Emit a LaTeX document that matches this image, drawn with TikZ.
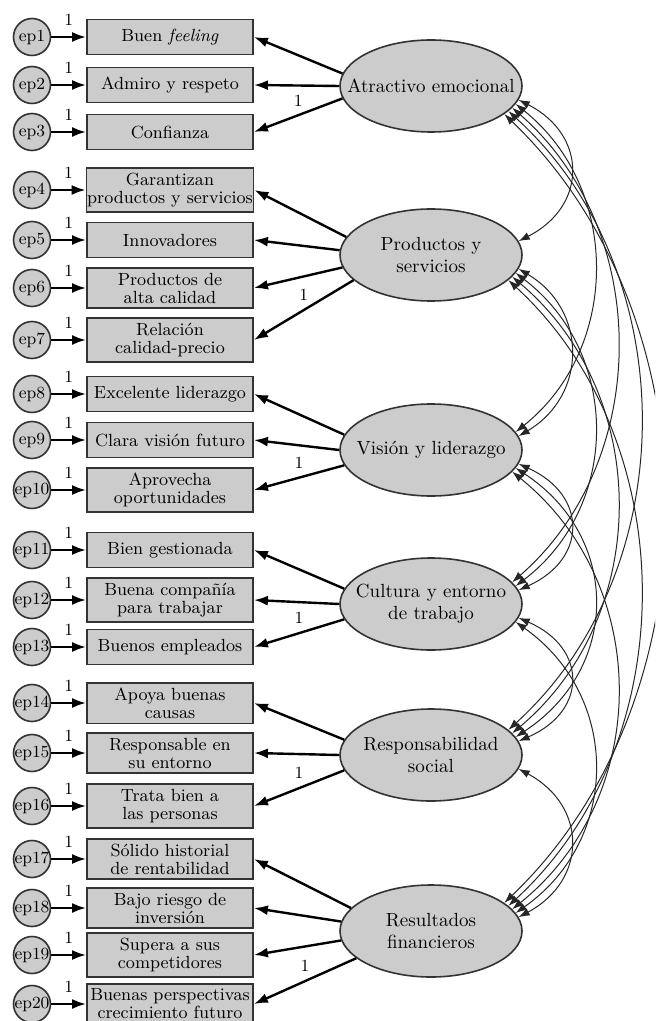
\documentclass[tikz,border=0pt]{standalone}
\usetikzlibrary{arrows.meta,shapes.geometric}
\begin{document}
\begin{tikzpicture}[x=0.5pt, y=0.5pt,
	ind/.style={draw=black!80, line width=0.9pt, fill=black!20, minimum width=83pt, minimum height=17.5pt, inner xsep=0.3pt, inner ysep=2.5pt, align=center, font=\fontsize{8.8}{9}\selectfont},
	err/.style={circle, draw=black!80, line width=0.8pt, fill=black!20, minimum size=18.5pt, inner sep=0pt},
	errtxt/.style={inner sep=0pt, font=\fontsize{8.5}{8.5}\selectfont},
	fac/.style={ellipse, draw=black!80, line width=0.8pt, fill=black!20, minimum width=91pt, minimum height=46pt, inner sep=0pt},
	factxt/.style={inner sep=0pt, align=center, font=\fontsize{9.5}{11}\selectfont},
	load/.style={-{Latex[length=7pt,width=5pt]}, line width=1.2pt},
	cov/.style={{Latex[length=5.5pt,width=4pt]}-{Latex[length=5.5pt,width=4pt]}, line width=0.5pt, black!85},
	one/.style={inner sep=0pt, font=\fontsize{8.5}{8.5}\selectfont}]
	\clip (0,0) rectangle (655,-1021);
	% factores
	\node[fac, label={[factxt]center:Atractivo emocional}] (f1) at (431,-86) {};
	\node[fac, label={[factxt]center:{Productos y\\servicios}}] (f2) at (431,-255) {};
	\node[fac, label={[factxt]center:Visión y liderazgo}] (f3) at (431,-450) {};
	\node[fac, label={[factxt]center:{Cultura y entorno\\de trabajo}}] (f4) at (431,-604) {};
	\node[fac, label={[factxt]center:{Responsabilidad\\social}}] (f5) at (431,-755) {};
	\node[fac, label={[factxt]center:{Resultados\\financieros}}] (f6) at (431,-931) {};
	% indicadores y errores
	\node[ind] (b1) at (170,-37) {Buen \textit{feeling}};
	\node[ind] (b2) at (170,-85) {Admiro y respeto};
	\node[ind] (b3) at (170,-132) {Confianza};
	\node[ind] (b4) at (170,-190) {Garantizan\\productos y servicios};
	\node[ind] (b5) at (170,-240) {Innovadores};
	\node[ind] (b6) at (170,-288) {Productos de\\alta calidad};
	\node[ind] (b7) at (170,-340) {Relación\\calidad-precio};
	\node[ind] (b8) at (170,-394) {Excelente liderazgo};
	\node[ind] (b9) at (170,-440) {Clara visión futuro};
	\node[ind] (b10) at (170,-490) {Aprovecha\\oportunidades};
	\node[ind] (b11) at (170,-550) {Bien gestionada};
	\node[ind] (b12) at (170,-600) {Buena compañía\\para trabajar};
	\node[ind] (b13) at (170,-647) {Buenos empleados};
	\node[ind] (b14) at (170,-703) {Apoya buenas\\causas};
	\node[ind] (b15) at (170,-753) {Responsable en\\su entorno};
	\node[ind] (b16) at (170,-806) {Trata bien a\\las personas};
	\node[ind] (b17) at (170,-859) {Sólido historial\\de rentabilidad};
	\node[ind] (b18) at (170,-908) {Bajo riesgo de\\inversión};
	\node[ind] (b19) at (170,-955) {Supera a sus\\competidores};
	\node[ind] (b20) at (170,-1004) {Buenas perspectivas\\crecimiento futuro};
	\foreach \i in {1,...,20}{
		\node[err, label={[errtxt]center:ep\i}] (e\i) at (32,0 |- b\i) {};
		\draw[load] (e\i) -- node[one, above=5pt]{1} (b\i);
	}
	% cargas
	\draw[load] (f1.172) -- (b1.east);
	\draw[load] (f1.180) -- (b2.east);
	\draw[load] (f1.188) -- node[one, above=4pt]{1} (b3.east);
	\draw[load] (f2.168) -- (b4.east);
	\draw[load] (f2.177) -- (b5.east);
	\draw[load] (f2.188) -- (b6.east);
	\draw[load] (f2.198) -- node[one, above=4pt]{1} (b7.east);
	\draw[load] (f3.170) -- (b8.east);
	\draw[load] (f3.180) -- (b9.east);
	\draw[load] (f3.190) -- node[one, above=4pt]{1} (b10.east);
	\draw[load] (f4.170) -- (b11.east);
	\draw[load] (f4.180) -- (b12.east);
	\draw[load] (f4.190) -- node[one, above=4pt]{1} (b13.east);
	\draw[load] (f5.170) -- (b14.east);
	\draw[load] (f5.180) -- (b15.east);
	\draw[load] (f5.190) -- node[one, above=4pt]{1} (b16.east);
	\draw[load] (f6.164) -- (b17.east);
	\draw[load] (f6.174) -- (b18.east);
	\draw[load] (f6.186) -- (b19.east);
	\draw[load] (f6.200) -- node[one, above=4pt]{1} (b20.east);
	% covarianzas
	\draw[cov] (f1.-9) .. controls +(69,-35) and +(69,35) .. (f2.9);
	\draw[cov] (f1.-12) .. controls +(105,-84) and +(105,84) .. (f3.12);
	\draw[cov] (f1.-15) .. controls +(140,-122) and +(140,122) .. (f4.15);
	\draw[cov] (f1.-18) .. controls +(176,-160) and +(176,160) .. (f5.18);
	\draw[cov] (f1.-21) .. controls +(213,-204) and +(213,204) .. (f6.21);
	\draw[cov] (f2.-9) .. controls +(69,-41) and +(69,41) .. (f3.9);
	\draw[cov] (f2.-12) .. controls +(105,-80) and +(105,80) .. (f4.12);
	\draw[cov] (f2.-15) .. controls +(140,-118) and +(140,118) .. (f5.15);
	\draw[cov] (f2.-18) .. controls +(176,-162) and +(176,162) .. (f6.18);
	\draw[cov] (f3.-9) .. controls +(69,-31) and +(69,31) .. (f4.9);
	\draw[cov] (f3.-12) .. controls +(105,-69) and +(105,69) .. (f5.12);
	\draw[cov] (f3.-15) .. controls +(140,-113) and +(140,113) .. (f6.15);
	\draw[cov] (f4.-9) .. controls +(69,-30) and +(69,30) .. (f5.9);
	\draw[cov] (f4.-12) .. controls +(105,-74) and +(105,74) .. (f6.12);
	\draw[cov] (f5.-9) .. controls +(69,-37) and +(69,37) .. (f6.9);
\end{tikzpicture}
\end{document}
